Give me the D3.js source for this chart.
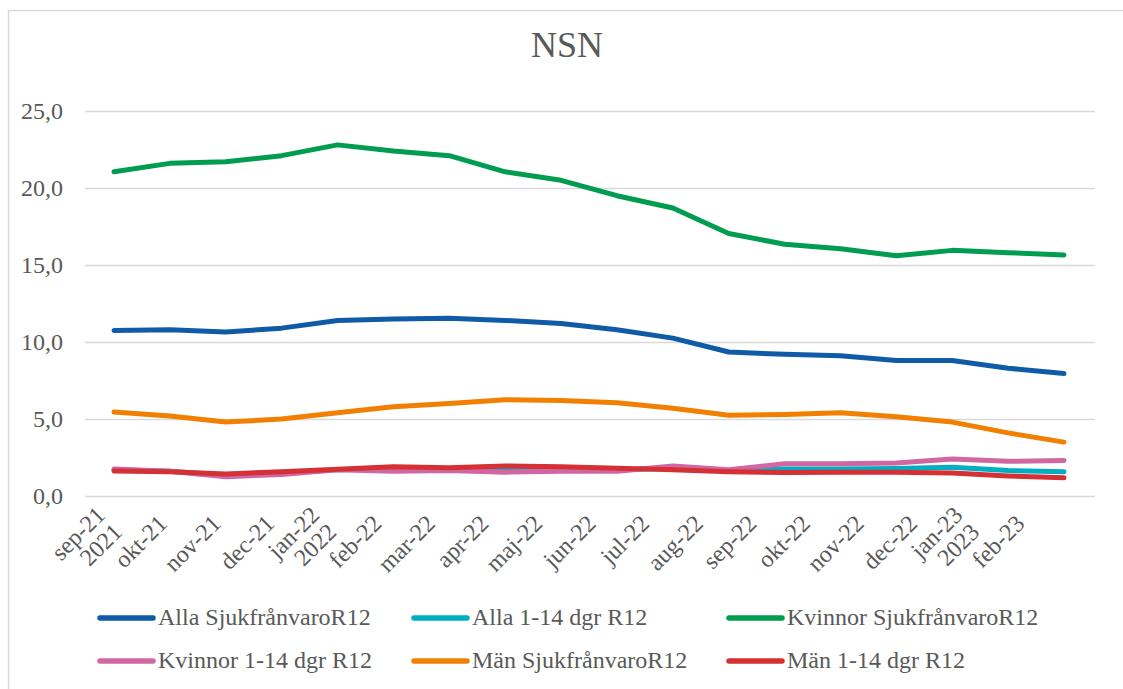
<!DOCTYPE html>
<html>
<head>
<meta charset="utf-8">
<script src="https://cdn.jsdelivr.net/npm/d3@7"></script>
<style>
  body { margin: 0; background: #fff; }
  text { font-family: "Liberation Serif", "Times New Roman", serif; fill: #595959; }
</style>
</head>
<body>
<svg id="chart" width="1123" height="689"></svg>
<script>
const months = ["sep-21", "okt-21", "nov-21", "dec-21", "jan-22", "feb-22", "mar-22", "apr-22", "maj-22",
  "jun-22", "jul-22", "aug-22", "sep-22", "okt-22", "nov-22", "dec-22", "jan-23", "feb-23"];
const years = { "sep-21": "2021", "jan-22": "2022", "jan-23": "2023" };
const yTicks = [0, 5, 10, 15, 20, 25];

const allaSjuk = [10.75, 10.8, 10.65, 10.9, 11.4, 11.5, 11.55, 11.4, 11.2, 10.8, 10.25, 9.35, 9.2, 9.1, 8.8, 8.8, 8.3, 7.95];
const alla114 = [1.7, 1.6, 1.35, 1.5, 1.7, 1.75, 1.75, 1.75, 1.75, 1.7, 1.8, 1.65, 1.75, 1.75, 1.78, 1.86, 1.65, 1.58];
const kvinnorSjuk = [21.05, 21.6, 21.7, 22.1, 22.8, 22.4, 22.1, 21.05, 20.5, 19.5, 18.7, 17.05, 16.35, 16.05, 15.6, 15.95, 15.8, 15.65];
const kvinnor114 = [1.75, 1.6, 1.25, 1.4, 1.7, 1.6, 1.65, 1.55, 1.6, 1.6, 1.95, 1.7, 2.1, 2.1, 2.15, 2.4, 2.25, 2.3];
const manSjuk = [5.45, 5.2, 4.8, 5.0, 5.4, 5.8, 6.0, 6.25, 6.2, 6.05, 5.7, 5.25, 5.3, 5.4, 5.15, 4.8, 4.1, 3.5];
const man114 = [1.62, 1.58, 1.43, 1.58, 1.73, 1.9, 1.84, 1.95, 1.9, 1.8, 1.7, 1.58, 1.52, 1.55, 1.55, 1.5, 1.3, 1.18];

const series = [
  { name: "Alla SjukfrånvaroR12", values: allaSjuk, color: "#0f5ba7" },
  { name: "Alla 1-14 dgr R12", values: alla114, color: "#00aec1" },
  { name: "Kvinnor SjukfrånvaroR12", values: kvinnorSjuk, color: "#009c4f" },
  { name: "Kvinnor 1-14 dgr R12", values: kvinnor114, color: "#d067a2" },
  { name: "Män SjukfrånvaroR12", values: manSjuk, color: "#f18000" },
  { name: "Män 1-14 dgr R12", values: man114, color: "#d53033" },
];

const svg = d3.select("#chart");
const plot = { left: 85, right: 1095, top: 111, bottom: 496 };

// chart border
svg.append("rect")
  .attr("x", 8.5).attr("y", 10.5)
  .attr("width", 1125).attr("height", 690)
  .attr("fill", "none").attr("stroke", "#d9d9d9").attr("stroke-width", 1.5);

svg.append("text")
  .attr("x", 567).attr("y", 57)
  .attr("text-anchor", "middle")
  .style("font-size", "36px")
  .text("NSN");

const x = d3.scalePoint().domain(months).range([114, 1064]);
// category labels sit a little left of their points, as in the original
const labelX = d3.scalePoint().domain(months).range([109, 1020]);
const y = d3.scaleLinear().domain([0, 25]).range([plot.bottom, plot.top]);

// gridlines + y labels
const yAxis = d3.axisLeft(y).tickValues(yTicks)
  .tickSize(-(plot.right - plot.left))
  .tickPadding(22)
  .tickFormat((d) => d3.format(".1f")(d).replace(".", ","));
svg.append("g")
  .attr("transform", `translate(${plot.left},0)`)
  .call(yAxis)
  .call((g) => g.select(".domain").remove())
  .call((g) => g.selectAll("line").attr("stroke", "#d9d9d9").attr("stroke-width", 1.5))
  .call((g) => g.selectAll("text").style("font-size", "24px").attr("fill", "#595959")
    .attr("font-family", null));

// x labels, rotated
const xl = svg.append("g").selectAll("text")
  .data(months)
  .join("text")
  .attr("transform", (d) => `translate(${labelX(d)},519) rotate(-45)`)
  .attr("text-anchor", "end")
  .style("font-size", "24px");
xl.each(function (d) {
  const t = d3.select(this);
  if (years[d]) {
    t.append("tspan").attr("x", 0).attr("dy", "-0.15em").text(d);
    t.append("tspan").attr("x", 0).attr("dy", "1.0em").text(years[d]);
  } else {
    t.append("tspan").attr("x", 0).attr("dy", "0.35em").text(d);
  }
});

const line = d3.line()
  .x((d, i) => x(months[i]))
  .y((d) => y(d));

svg.append("g").selectAll("path")
  .data(series)
  .join("path")
  .attr("d", (s) => line(s.values))
  .attr("fill", "none")
  .attr("stroke", (s) => s.color)
  .attr("stroke-width", 5)
  .attr("stroke-linejoin", "round")
  .attr("stroke-linecap", "round");

// legend
const legendCols = [100, 414, 729];
const legendRows = [618, 661];
const leg = svg.append("g").selectAll("g")
  .data(series)
  .join("g")
  .attr("transform", (s, i) => `translate(${legendCols[i % 3]},${legendRows[Math.floor(i / 3)]})`);
leg.append("line")
  .attr("x1", 0).attr("x2", 53)
  .attr("stroke", (s) => s.color)
  .attr("stroke-width", 5.5)
  .attr("stroke-linecap", "round");
leg.append("text")
  .attr("x", 58).attr("dy", "0.3em")
  .style("font-size", "24px")
  .text((s) => s.name);
</script>
</body>
</html>
